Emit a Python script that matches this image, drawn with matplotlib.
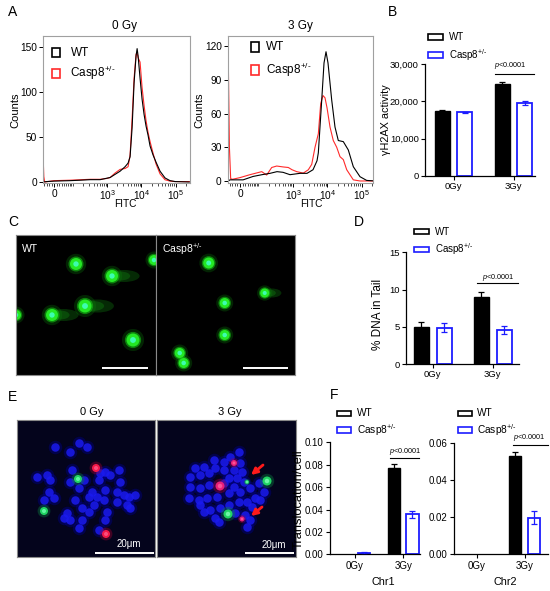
import numpy as np
import matplotlib
matplotlib.use('Agg')
import matplotlib.pyplot as plt
from matplotlib import font_manager
from matplotlib.patches import Rectangle, Ellipse
from matplotlib.ticker import NullFormatter

W, H = 550, 591
names = {f.name for f in font_manager.fontManager.ttflist}
BASE = 'Liberation Sans' if 'Liberation Sans' in names else 'DejaVu Sans'
plt.rcParams['font.family'] = [BASE, 'DejaVu Sans']
plt.rcParams['mathtext.fontset'] = 'custom'
plt.rcParams['mathtext.rm'] = BASE
plt.rcParams['mathtext.it'] = BASE + ':italic'
plt.rcParams['mathtext.bf'] = BASE + ':bold'

RED = '#ff2a2a'
BLUE = '#1c1cff'
KO = r'Casp8$^{\text{+/-}}$'

# ---- A: flow histograms (FITC value, counts)
h0_wt_x = [-47, -30, 0, 74, 158, 317, 623, 1222, 1708, 2390, 3345, 4090, 4675, 5350, 6117,
           6995, 7500, 8000, 9145, 10450, 11960, 13670, 15630, 17880, 21870, 26760, 35000,
           48960, 68460, 95760, 250000]
h0_wt_y = [0, 0.5, 1, 1.5, 2, 2.6, 2.6, 5, 8.5, 12, 17, 21, 28, 60, 110,
           140, 148, 140, 115, 92, 75, 62, 52, 40, 30, 22, 12,
           4.5, 1.5, 0.5, 0]
h0_ko_x = [-47, -43, -39, 0, 74, 158, 317, 623, 1000, 1222, 1708, 2390, 3345, 4090, 4675,
           5350, 6117, 6995, 7500, 8000, 9145, 10450, 11960, 13670, 15630, 17880, 21870,
           26760, 35000, 48960, 68460, 95760, 250000]
h0_ko_y = [32, 6, 0, 1.5, 2, 2.5, 3, 3, 4, 5, 10, 14, 15, 17, 30,
           70, 115, 142, 143, 138, 133, 105, 85, 68, 55, 45, 32,
           20, 9, 2.5, 1, 0.5, 0.5]
h3_wt_x = [-50, -41, -12, 12, 56, 118, 210, 339, 510, 815, 1597, 2557, 3824, 5003, 5460,
           6860, 8000, 9145, 10450, 13400, 16710, 20860, 29200, 40800, 57100, 89500,
           140000, 250000]
h3_wt_y = [0, 1, 1, 1, 4, 5.6, 6.8, 8.3, 7.7, 5.6, 6.8, 6.8, 10, 18, 25,
           72, 105, 115, 105, 72, 48, 36, 35, 27.6, 12.7, 3.8,
           0.5, 0]
h3_ko_x = [-51, -44, -38, -30, 0, 41, 74, 116, 166, 236, 332, 510, 728, 935, 1282, 1994,
           2793, 3506, 4377, 5460, 6413, 7480, 8550, 9800, 11960, 14900, 18740, 23400,
           29200, 36700, 57100, 89500, 250000]
h3_ko_y = [128, 30, 2, 1.5, 3, 5.6, 7, 8.3, 5.3, 12, 13.3, 12.5, 12, 10, 8.3, 7,
           10, 14.8, 30, 42, 69, 76, 74, 65, 48, 36, 30, 21.6,
           19, 10, 1, 0, 0]
fitc_ticks = [0, 1e3, 1e4, 1e5]
fitc_labels = ['0', '10$^3$', '10$^4$', '10$^5$']
fitc_minor = [-40, -30, -20, -10, 10, 20, 30, 40, 50, 60, 70, 80, 90,
              200, 300, 400, 500, 600, 700, 800, 900,
              2000, 3000, 4000, 5000, 6000, 7000, 8000, 9000,
              20000, 30000, 40000, 50000, 60000, 70000, 80000, 90000, 200000]

# ---- B, D, F: bar data (0Gy, 3Gy)
dose_labels = ['0Gy', '3Gy']
gamma_wt = [17400, 24550]
gamma_wt_err = [250, 700]
gamma_ko = [17050, 19650]
gamma_ko_err = [200, 500]
tail_wt = [5.0, 8.95]
tail_wt_err = [0.6, 0.75]
tail_ko = [4.9, 4.57]
tail_ko_err = [0.55, 0.5]
chr1_wt = [0, 0.0768]
chr1_wt_err = [0, 0.004]
chr1_ko = [0.001, 0.0357]
chr1_ko_err = [0.0015, 0.003]
chr2_wt = [0, 0.0531]
chr2_wt_err = [0, 0.0024]
chr2_ko = [0, 0.0198]
chr2_ko_err = [0, 0.0036]

# ---- C: comet heads (local px), diameter, tail length
comet_wt_x = [60, 96, 69, 36, 117, 0, 138]
comet_wt_y = [29, 41, 71, 80, 105, 80, 25]
comet_wt_d = [12, 12, 13, 12, 13, 10, 10]
comet_wt_tail = [0, 24, 25, 23, 0, 0, 0]
comet_ko_x = [53, 109, 69, 69, 24, 28]
comet_ko_y = [28, 58, 68, 100, 118, 128]
comet_ko_d = [11, 9, 10, 10, 10, 10]
comet_ko_tail = [0, 14, 0, 0, 0, 0]

# ---- E: metaphase spreads (local px)
spread0_x = [38, 53, 62, 70, 55, 53, 20, 30, 33, 32, 27, 37, 62, 67, 58, 65, 50, 47, 53, 62,
             65, 72, 75, 80, 82, 83, 88, 93, 102, 103, 100, 107, 112, 118, 110, 113, 100, 88,
             87, 77, 90, 88, 82, 72]
spread0_y = [27, 32, 23, 27, 50, 62, 57, 55, 60, 72, 80, 78, 68, 60, 80, 88, 93, 98, 100, 108,
             100, 77, 72, 77, 60, 53, 52, 55, 50, 62, 72, 75, 77, 75, 85, 88, 82, 70,
             80, 85, 92, 100, 110, 92]
red0_x = [79, 89]
red0_y = [48, 114]
green0_x = [61, 27]
green0_y = [59, 91]
spread3_x = [82, 73, 67, 57, 47, 38, 33, 43, 52, 58, 67, 77, 83, 85, 80, 72, 67, 52, 43, 33,
             32, 42, 50, 60, 72, 83, 93, 102, 107, 98, 90, 82, 72, 63, 53, 47, 43, 58, 62,
             78, 88, 90, 93, 103, 77, 87, 95]
spread3_y = [32, 37, 42, 40, 47, 48, 57, 55, 53, 48, 50, 50, 43, 52, 58, 58, 63, 65, 68, 67,
             78, 80, 78, 77, 73, 72, 68, 63, 72, 78, 82, 82, 85, 88, 90, 92, 85, 98, 102,
             93, 95, 107, 100, 80, 67, 62, 87]
red3_x = [77, 63, 85]
red3_y = [43, 66, 99]
red3_d = [6, 9, 5]
green3_x = [110, 71, 90]
green3_y = [61, 94, 62]
green3_d = [9, 9, 4]
arrow_tail = [(106, 45), (105, 87)]
arrow_head = [(94, 55), (94, 96)]

fig = plt.figure(figsize=(W / 100, H / 100), dpi=100)


def px_axes(left, top, right, bottom):
    return fig.add_axes([left / W, 1 - bottom / H, (right - left) / W, (bottom - top) / H])


def ftext(x, y, s, **kw):
    kw.setdefault('ha', 'center')
    kw.setdefault('va', 'center')
    fig.text(x / W, 1 - y / H, s, **kw)


def key_box(x0, yc, w, h, color):
    fig.add_artist(Rectangle((x0 / W, 1 - (yc + h / 2) / H), w / W, h / H,
                             transform=fig.transFigure, fill=False, edgecolor=color, lw=1.2))


def legend(x0, y_wt, y_ko, w, h, tx, size, ko_color):
    key_box(x0, y_wt, w, h, 'black')
    key_box(x0, y_ko, w, h, ko_color)
    ftext(tx, y_wt, 'WT', ha='left', fontsize=size)
    ftext(tx, y_ko, KO, ha='left', fontsize=size)


def hist_panel(rect, wx, wy, kx, ky, xlim, ylim, yticks):
    ax = px_axes(*rect)
    ax.plot(kx, ky, color=RED, lw=0.8)
    ax.plot(wx, wy, color='black', lw=0.8)
    ax.set_xscale('asinh', linear_width=57)
    ax.set_xlim(xlim)
    ax.set_ylim(ylim)
    ax.set_xticks(fitc_ticks, fitc_labels)
    ax.set_xticks(fitc_minor, minor=True)
    ax.xaxis.set_minor_formatter(NullFormatter())
    ax.set_yticks(yticks)
    for s in ax.spines.values():
        s.set_color('#a0a0a0')
        s.set_linewidth(0.8)
    ax.tick_params(length=3, width=0.7, labelsize=7.3, pad=1.5)
    ax.tick_params(axis='x', pad=1)
    ax.tick_params(which='minor', length=1.8, width=0.5)
    return ax


def bar_panel(rect, wt, wt_err, ko, ko_err, xlim, ylim, yticks, yticklabels, size):
    ax = px_axes(*rect)
    off, bw = 0.19, 0.25
    x = np.arange(len(dose_labels))
    wt = np.asarray(wt, float)
    ko = np.asarray(ko, float)
    mw = wt > 0
    mk = ko > 0
    ax.bar(x[mw] - off, wt[mw], bw, color='black', edgecolor='black', lw=1)
    ax.errorbar(x[mw] - off, wt[mw], yerr=np.asarray(wt_err)[mw], fmt='none', ecolor='black',
                capsize=2.5, elinewidth=0.9, capthick=0.9)
    ax.bar(x[mk] + off, ko[mk], bw, color='white', edgecolor=BLUE, lw=1.3, zorder=2)
    ax.errorbar(x[mk] + off, ko[mk], yerr=np.asarray(ko_err)[mk], fmt='none', ecolor=BLUE,
                capsize=2.5, elinewidth=0.9, capthick=0.9, zorder=3)
    ax.set_xlim(xlim)
    ax.set_ylim(ylim)
    ax.set_xticks(x, dose_labels)
    ax.set_yticks(yticks, yticklabels)
    ax.spines[['top', 'right']].set_visible(False)
    for s in ('left', 'bottom'):
        ax.spines[s].set_linewidth(0.9)
    ax.tick_params(length=3, width=0.8, labelsize=size, pad=1.5)
    return ax


def p_bracket(ax, x0, x1, y_line, x_text, y_text, size):
    ax.plot([x0, x1], [y_line, y_line], color='black', lw=0.8, clip_on=False)
    ax.text(x_text, y_text, r'$\mathit{p}$<0.0001', ha='center', va='center',
            fontsize=size, clip_on=False)


def image_axes(rect, bg):
    ax = px_axes(*rect)
    ax.set_facecolor(bg)
    ax.set_xlim(0, rect[2] - rect[0])
    ax.set_ylim(rect[3] - rect[1], 0)
    ax.set_xticks([])
    ax.set_yticks([])
    for s in ax.spines.values():
        s.set_color('#8a8a8a')
        s.set_linewidth(0.8)
    return ax


def sz(d, k=1.0):
    return (0.72 * np.asarray(d, float) * k) ** 2


def comets(ax, x, y, d, tail):
    for xi, yi, di, ti in zip(x, y, d, tail):
        if ti > 0:
            ax.add_patch(Ellipse((xi + ti / 2, yi), ti + di * 0.6, di * 1.0,
                                 color='#129a12', alpha=0.28, lw=0))
            ax.add_patch(Ellipse((xi + ti / 3, yi), ti * 0.6 + di * 0.5, di * 0.75,
                                 color='#18b018', alpha=0.25, lw=0))
    ax.scatter(x, y, s=sz(d, 1.7), color='#0a7a0a', alpha=0.3, lw=0)
    ax.scatter(x, y, s=sz(d, 1.25), color='#14c014', alpha=0.6, lw=0)
    ax.scatter(x, y, s=sz(d), color='#24e824', lw=0)
    ax.scatter(x, y, s=sz(d, 0.45), color='#40ffc0', alpha=0.9, lw=0)


def spots(ax, x, y, d, glow, core, center):
    ax.scatter(x, y, s=sz(d, 1.6), color=glow, alpha=0.4, lw=0)
    ax.scatter(x, y, s=sz(d), color=core, alpha=0.95, lw=0)
    ax.scatter(x, y, s=sz(d, 0.5), color=center, alpha=0.8, lw=0)


def spread(ax, bx, by):
    ax.scatter(bx, by, s=sz(9, 1.5), color='#0000a0', alpha=0.35, lw=0)
    ax.scatter(bx, by, s=sz(8.5), color='#1a1aee', alpha=0.85, lw=0)


def scale_bar(ax, x0, x1, y, label=None, ly=None):
    ax.plot([x0, x1], [y, y], color='white', lw=1.4, solid_capstyle='butt')
    if label:
        ax.text((x0 + x1) / 2 + 4, ly, label, color='white', fontsize=7, ha='center', va='center')


# ---------------- A
ax = hist_panel((43, 36, 190, 183), h0_wt_x, h0_wt_y, h0_ko_x, h0_ko_y,
                (-47, 262000), (-1.1, 162), [0, 50, 100, 150])
ax = hist_panel((228, 36, 373, 183), h3_wt_x, h3_wt_y, h3_ko_x, h3_ko_y,
                (-51, 214000), (-1.8, 129), [0, 30, 60, 90, 120])
ftext(125, 26, '0 Gy', fontsize=8.5)
ftext(300, 26, '3 Gy', fontsize=8.5)
ftext(15, 110, 'Counts', fontsize=8, rotation=90)
ftext(199, 110, 'Counts', fontsize=8, rotation=90)
ftext(125, 204, 'FITC', fontsize=7.3)
ftext(311, 204, 'FITC', fontsize=7.3)
legend(52.3, 52.5, 73.3, 7.7, 8.5, 70.5, 8.5, RED)
legend(250.7, 47, 70, 8.6, 9.5, 266, 8.5, RED)

# ---------------- B
ax = bar_panel((425, 64, 535, 176), gamma_wt, gamma_wt_err, gamma_ko, gamma_ko_err,
               (-0.475, 1.358), (0, 30000), [0, 10000, 20000, 30000],
               ['0', '10,000', '20,000', '30,000'], 6.8)
p_bracket(ax, 0.69, 1.34, 27300, 0.95, 29700, 5.2)
ftext(386, 120, 'γH2AX activity', fontsize=7.8, rotation=90)
legend(428, 37, 55, 15, 6.5, 449, 7, BLUE)

# ---------------- D
ax = bar_panel((406, 252.3, 519, 364), tail_wt, tail_wt_err, tail_ko, tail_ko_err,
               (-0.447, 1.437), (0, 15), [0, 5, 10, 15], ['0', '5', '10', '15'], 6.8)
p_bracket(ax, 0.74, 1.42, 10.84, 1.087, 11.6, 5.2)
ftext(378, 314, '% DNA in Tail', fontsize=8.5, rotation=90)
legend(414, 231.7, 249.3, 15, 5.5, 435, 7, BLUE)

# ---------------- F
ax = bar_panel((330, 442.3, 420, 554.3), chr1_wt, chr1_wt_err, chr1_ko, chr1_ko_err,
               (-0.518, 1.346), (0, 0.10), [0, 0.02, 0.04, 0.06, 0.08, 0.10],
               ['0.00', '0.02', '0.04', '0.06', '0.08', '0.10'], 7)
p_bracket(ax, 0.725, 1.33, 0.0857, 1.035, 0.0916, 5.2)
ax = bar_panel((454, 443.3, 548, 554.3), chr2_wt, chr2_wt_err, chr2_ko, chr2_ko_err,
               (-0.475, 1.49), (0, 0.06), [0, 0.02, 0.04, 0.06],
               ['0.00', '0.02', '0.04', '0.06'], 7)
p_bracket(ax, 0.766, 1.5, 0.0591, 1.094, 0.0632, 5.2)
ftext(299, 499, 'Translocation/cell', fontsize=9.3, rotation=90)
ftext(383, 582, 'Chr1', fontsize=7.8)
ftext(505, 582, 'Chr2', fontsize=7.8)
legend(337.3, 413.3, 430, 13.4, 5.5, 357.3, 7.3, BLUE)
legend(458.3, 413.3, 430, 13.4, 5.5, 477.3, 7.3, BLUE)

# ---------------- C
ax = image_axes((16, 235, 155.7, 375), 'black')
comets(ax, comet_wt_x, comet_wt_y, comet_wt_d, comet_wt_tail)
scale_bar(ax, 85.7, 131.7, 133.3)
ax.text(6, 14.5, 'WT', color='white', fontsize=7.5, ha='left', va='center')
ax = image_axes((155.7, 235, 295, 375), 'black')
comets(ax, comet_ko_x, comet_ko_y, comet_ko_d, comet_ko_tail)
scale_bar(ax, 87, 132.6, 133.3)
ax.text(6, 14.5, KO, color='white', fontsize=7.5, ha='left', va='center')

# ---------------- E
ax = image_axes((17, 420, 155, 556.5), '#04041c')
spread(ax, spread0_x, spread0_y)
spots(ax, red0_x, red0_y, [8, 8], '#a00030', '#ff1a4a', '#ff5a8a')
spots(ax, green0_x, green0_y, [8, 8], '#0a8040', '#22dd66', '#70ffb0')
scale_bar(ax, 78, 137, 132.7, '20μm', 124)
ax = image_axes((157, 420, 296, 556.5), '#04041c')
spread(ax, spread3_x, spread3_y)
spots(ax, red3_x, red3_y, red3_d, '#a00040', '#f0207a', '#ff60a0')
spots(ax, green3_x, green3_y, green3_d, '#0a8040', '#22dd66', '#80ffb8')
for (tx, ty), (hx, hy) in zip(arrow_tail, arrow_head):
    ax.annotate('', xy=(hx, hy), xytext=(tx, ty),
                arrowprops=dict(arrowstyle='-|>', color='#ff1a1a', lw=2, mutation_scale=9,
                                shrinkA=0, shrinkB=0))
scale_bar(ax, 88, 137, 132.7, '20μm', 125)
ftext(92, 411.7, '0 Gy', fontsize=8)
ftext(230, 411.7, '3 Gy', fontsize=8)

# ---------------- panel letters
for lbl, x, y in [('A', 8, 12), ('B', 388, 12), ('C', 8, 222), ('D', 354, 222),
                  ('E', 8, 397), ('F', 330, 395)]:
    ftext(x, y, lbl, fontsize=10, ha='left')

fig.savefig('out.png', dpi=100)
